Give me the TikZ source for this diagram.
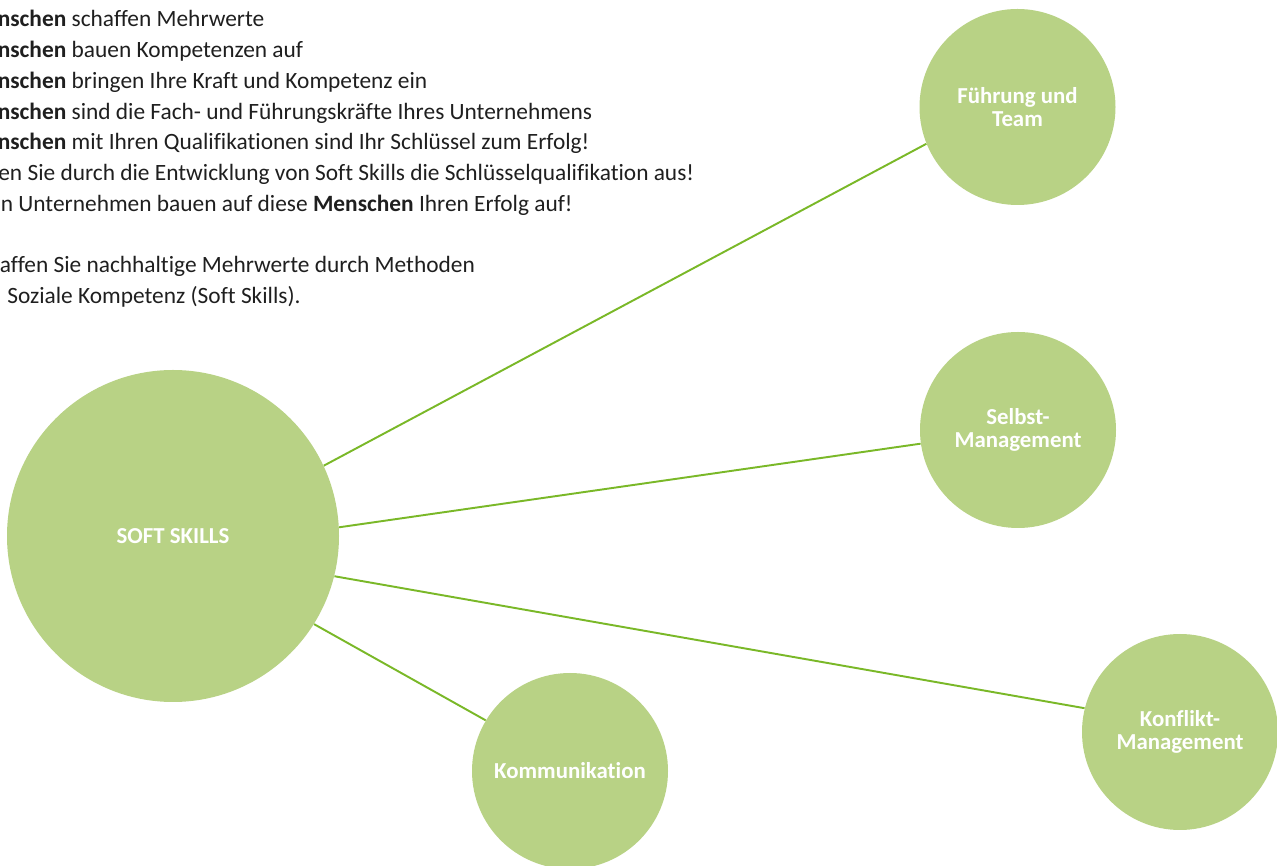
\documentclass[tikz,border=0pt]{standalone}
\usepackage{fontspec}
\setmainfont{Carlito}[Ligatures=NoCommon]
\definecolor{leaf}{RGB}{184,210,133}
\definecolor{stem}{RGB}{122,184,40}

\begin{document}
\begin{tikzpicture}[
    skill/.style={circle, fill=leaf, text=white, inner sep=0pt, minimum size=3.92cm, align=center, font=\bfseries\fontsize{13}{13}\selectfont},
    core/.style={skill, minimum size=6.64cm},
    line/.style={anchor=base west, inner sep=0pt, text=black!88, font=\fontsize{13.3}{15}\selectfont},
    every edge/.style={draw=stem, line width=1.1pt}
]
\clip (0,0) rectangle (25.54,17.32);

% Text
\node[line] (L-1) at (-0.05, 16.78) {\textbf{nschen} schaffen Mehrwerte};
\node[line] (L-2) at (-0.05, 16.16) {\textbf{nschen} bauen Kompetenzen auf};
\node[line] (L-3) at (-0.05, 15.54) {\textbf{nschen} bringen Ihre Kraft und Kompetenz ein};
\node[line] (L-4) at (-0.05, 14.92) {\textbf{nschen} sind die Fach- und Führungskräfte Ihres Unternehmens};
\node[line] (L-5) at (-0.05, 14.32) {\textbf{nschen} mit Ihren Qualifikationen sind Ihr Schlüssel zum Erfolg!};
\node[line] (L-6) at (-0.04, 13.70) {en Sie durch die Entwicklung von Soft Skills die Schlüsselqualifikation aus!};
\node[line] (L-7) at (0.01, 13.08) {n Unternehmen bauen auf diese \textbf{Menschen} Ihren Erfolg auf!};
\node[line] (L-8) at (-0.01, 11.86) {affen Sie nachhaltige Mehrwerte durch Methoden};
\node[line] (L-9) at (0.14, 11.24) {Soziale Kompetenz (Soft Skills).};

% Circles
\node[core] (S) at (3.46, 6.60) {SOFT SKILLS};
\node[skill] (F) at (20.35, 15.18) {Führung und\\Team};
\node[skill] (M) at (20.36, 8.72) {Selbst-\\Management};
\node[skill] (K) at (23.60, 2.68) {Konflikt-\\Management};
\node[skill] (C) at (11.40, 1.90) {Kommunikation};

% Connections
\foreach \a/\n/\b in {25/F/202, 3/M/188, -14/K/166, -32/C/149}
    \path (S.\a) edge (\n.\b);

\end{tikzpicture}
\end{document}
